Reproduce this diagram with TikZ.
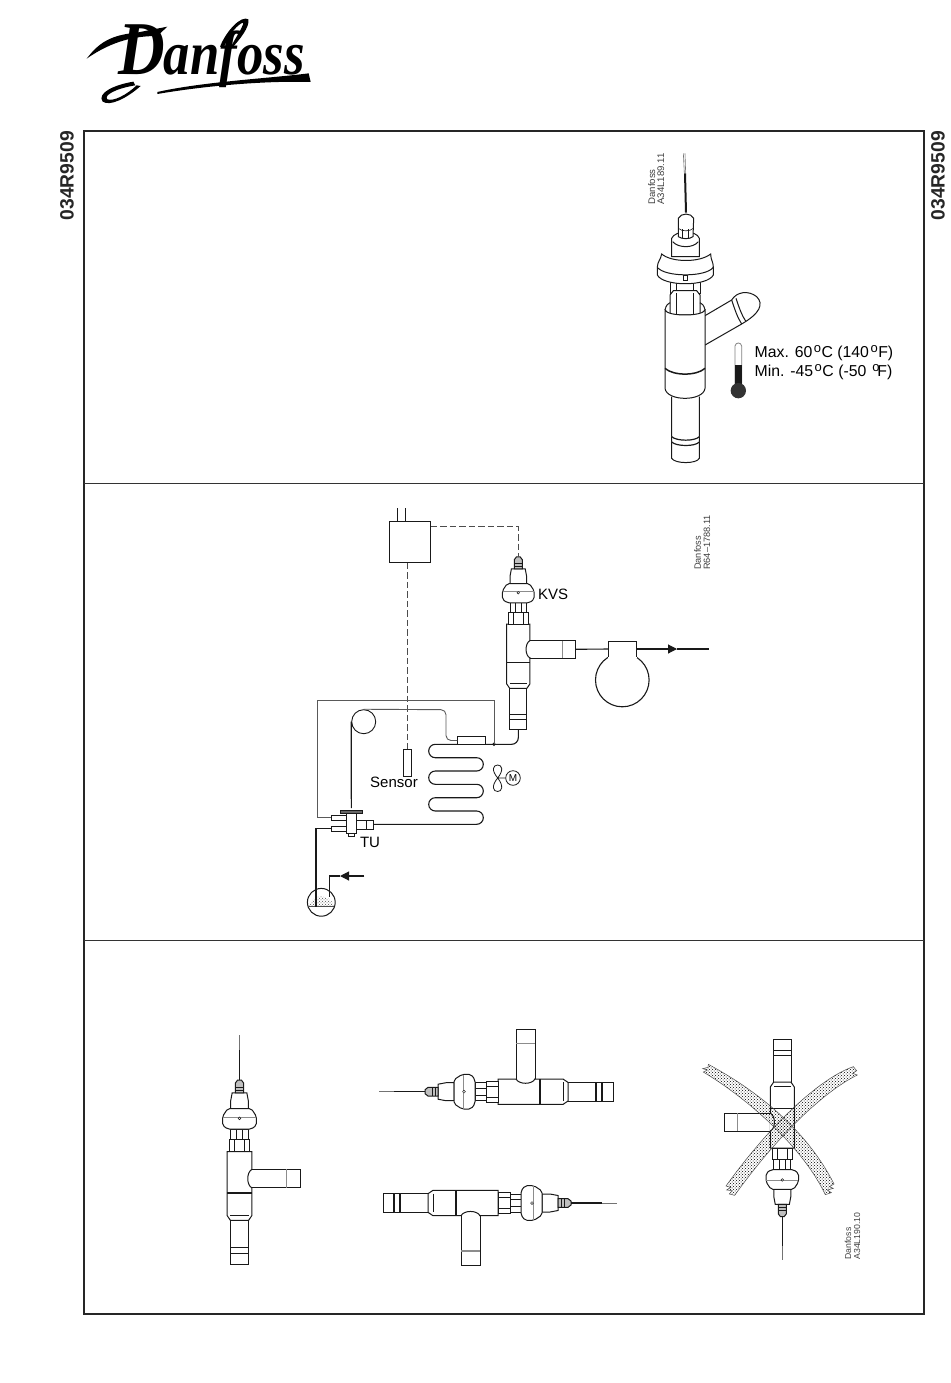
\documentclass[tikz,border=0pt]{standalone}
\usepackage{fontspec}
\setmainfont{Liberation Sans}
\newfontfamily\logofont{Liberation Serif}
\usetikzlibrary{calc,arrows.meta,patterns}
\newcommand{\degsign}{\kern1.5pt\raisebox{5pt}{\fontsize{13}{13}\selectfont o}\kern0.5pt}
\tikzset{
    frame style/.style={draw=black!85,line width=1.5pt},
    panel style/.style={draw=black!80,line width=0.8pt},
    valve line/.style={draw=black!90,line width=1pt,fill=white},
    pipe line/.style={draw=black!90,line width=1.1pt},
    thin pipe/.style={draw=black!65,line width=0.9pt},
    dash line/.style={draw=black!70,line width=0.8pt,dash pattern=on 6.5pt off 3pt},
    label style/.style={font=\fontsize{15}{15}\selectfont,inner sep=0pt},
    code style/.style={rotate=90,inner sep=0pt,align=left,text=black!75},
    side style/.style={rotate=90,inner sep=0pt,text=black!85,font=\fontsize{19.3}{19.3}\selectfont\bfseries},
    band style/.style={draw=black!70,line width=0.5pt,pattern=crosshatch dots,pattern color=black},
    % the valve, top of the body at the origin
    kvs/.pic={
        \draw[valve line] (-9.3,68) -- (-9.3,115) -- (9.3,115) -- (9.3,68);
        \draw[valve line,line width=1.2pt] (-9.3,98) -- (9.3,98) (-9.3,104) -- (9.3,104);
        \draw[valve line] (12.7,18) -- (62,18) -- (62,37) -- (12.7,37);
        \draw[black!45,line width=1.2pt] (48,18) -- (48,37);
        \draw[valve line] (-12.7,0) -- (-12.7,65) -- (-9.3,70) -- (9.3,70) -- (12.7,65) -- (12.7,0) -- cycle;
        \draw[valve line,line width=1.5pt] (-12.7,42) -- (12.7,42);
        \draw[valve line] (-9.3,65) -- (9.3,65);
        \draw[white,line width=1.6pt] (12.7,18.8) -- (12.7,36.2);
        \draw[valve line,fill=none] (12.7,18) .. controls (7,21) and (7,34) .. (12.7,37);
        \draw[valve line] (-9,-23) rectangle (9,-12);
        \draw[valve line] (-3.5,-23) -- (-3.5,-12) (3.5,-23) -- (3.5,-12);
        \draw[valve line] (-10.7,-12) rectangle (10.7,0);
        \draw[valve line] (-5.5,-12) -- (-5.5,0) (5.5,-12) -- (5.5,0);
        \draw[valve line] (-7.5,-60) -- (7.5,-60) -- (9,-52) -- (9,-44) -- (-9,-44) -- (-9,-52) -- cycle;
        \draw[valve line,rounded corners=2pt] (-12,-44) -- (12,-44) -- (17.3,-36) -- (17.3,-27) -- (12,-23) -- (-12,-23) -- (-17.3,-27) -- (-17.3,-36) -- cycle;
        \draw[black!45,line width=1pt] (-17,-35) -- (17,-35);
        \draw[valve line,line width=0.5pt] (0,-34) circle (1.4);
        \draw[valve line,fill=black!25] (-4.3,-60) -- (-4.3,-70) -- (-2,-73) -- (2,-73) -- (4.3,-70) -- (4.3,-60) -- cycle;
        \draw[black!90,line width=0.5pt] (-4.3,-66) -- (4.3,-66) (-4.3,-63) -- (4.3,-63);
        \coordinate (-head) at (0,-73);
        \coordinate (-tail) at (0,115);
        \coordinate (-port) at (62,27.5);
    },
    capillary/.pic={
        \draw[black!90,line width=1.2pt] (0,-73) -- (0,-104);
        \draw[black!55,line width=0.8pt] (0,-104) -- (0,-119);
    },
}
\begin{document}
\begin{tikzpicture}[x=1pt,y=-1pt]
    \useasboundingbox (0,0) rectangle (950,1383);

    % logo
    \node[anchor=base west,inner sep=0pt,xscale=0.85,font=\logofont\bfseries\itshape] (logo) at (118,75)
        {\fontsize{76}{76}\selectfont D\kern-1pt\fontsize{62}{62}\selectfont anfoss};
    \begin{scope}[shift={(70,10)},x=1/3pt,y=-1/3pt]
        \fill (50,146) .. controls (85,100) and (120,75) .. (200,68) -- (292,50) -- (262,78)
            .. controls (200,78) and (130,90) .. (50,146) -- cycle;
        \fill (262,246) .. controls (400,215) and (600,205) .. (716,190) -- (722,216)
            .. controls (600,212) and (420,225) .. (262,252) -- cycle;
        \fill (190,215) .. controls (130,225) and (80,250) .. (98,275)
            .. controls (120,290) and (170,265) .. (212,228) -- (200,226)
            .. controls (170,255) and (130,275) .. (112,268)
            .. controls (100,255) and (140,235) .. (196,226) -- cycle;
        \fill (450,110) .. controls (470,60) and (515,15) .. (535,28)
            .. controls (540,50) and (510,90) .. (475,125)
            .. controls (495,85) and (520,50) .. (520,38)
            .. controls (505,40) and (475,75) .. (462,112) -- cycle;
    \end{scope}

    % frame
    \path[frame style] (84,131) rectangle (924,1314);
    \path[panel style] (84,483) -- (924,483) (84,940) -- (924,940);
    \node[side style,anchor=east] (codeL) at (67,131) {034R9509};
    \node[side style,anchor=east] (codeR) at (938,131) {034R9509};

    % top panel, in zoomed pixels
    \begin{scope}[shift={(620,140)},x=1/3pt,y=-1/3pt]
        \draw[black!55,line width=0.6pt] (190,40) -- (193,100) (195,40) -- (197,100);
        \draw[black!90,line width=2pt] (195,100) -- (198,218);
        \draw[valve line] (155,770) -- (155,955) .. controls (165,972) and (230,972) .. (238,955) -- (238,770);
        \draw[valve line,line width=1.2pt] (155,890) .. controls (170,904) and (225,904) .. (238,890)
            (155,906) .. controls (170,920) and (225,920) .. (238,906);
        \draw[valve line] (250,530) -- (335,480) .. controls (350,455) and (385,450) .. (410,470)
            .. controls (432,492) and (420,520) .. (365,552) -- (250,618) -- cycle;
        \draw[valve line] (335,480) .. controls (345,510) and (352,532) .. (365,552);
        \draw[valve line] (348,475) .. controls (358,505) and (365,525) .. (378,545);
        \draw[valve line] (150,420) rectangle (240,460);
        \draw[valve line] (170,425) -- (170,455) (220,425) -- (220,455);
        \draw[valve line] (150,465) -- (160,452) -- (230,452) -- (240,465) -- (240,525) -- (150,525) -- cycle;
        \draw[valve line] (170,460) -- (170,525) (220,460) -- (220,525);
        \draw[valve line] (135,510) -- (135,745) .. controls (140,785) and (250,785) .. (255,745) -- (255,510)
            .. controls (248,530) and (142,530) .. (135,510) -- cycle;
        \draw[valve line,fill=none] (135,510) .. controls (138,495) and (145,490) .. (150,488)
            (255,510) .. controls (252,495) and (245,490) .. (240,488);
        \draw[valve line,line width=1.5pt,fill=none] (135,685) .. controls (160,708) and (230,708) .. (255,685);
        \draw[valve line] (155,295) -- (155,350) -- (238,350) -- (238,295)
            .. controls (230,270) and (165,270) .. (155,295) -- cycle;
        \draw[valve line,fill=none] (158,305) .. controls (175,325) and (220,325) .. (235,305);
        \draw[valve line] (125,342) .. controls (122,360) and (112,365) .. (112,382) -- (112,405)
            .. controls (130,440) and (262,440) .. (280,405) -- (280,382)
            .. controls (280,365) and (272,360) .. (272,342)
            .. controls (240,368) and (155,368) .. (125,342) -- cycle;
        \draw[valve line,fill=none] (112,382) .. controls (135,412) and (258,412) .. (280,382);
        \draw[valve line,line width=0.6pt] (190,405) rectangle (201,420);
        \draw[valve line] (175,235) -- (175,290) .. controls (185,298) and (210,298) .. (219,290) -- (221,235)
            .. controls (214,218) and (182,218) .. (175,235) -- cycle;
        \draw[valve line,line width=0.6pt,fill=none] (175,265) .. controls (185,275) and (210,275) .. (220,265);
        \draw[valve line,line width=0.6pt] (188,268) -- (188,295) (206,268) -- (206,295);
        % thermometer
        \draw[draw=black!50,line width=0.8pt,fill=white] (345,740) -- (345,618) .. controls (347,606) and (363,606) .. (365,618) -- (365,740);
        \fill[black!90] (345,675) rectangle (365,740);
        \fill[black!80] (355,752) circle (23);
    \end{scope}
    \node[code style,font=\fontsize{9.6}{9.2}\selectfont] (codeTop) at (656.2,179) {Danfoss\\A34L189.11};
    \node[anchor=base west,inner sep=0pt,align=left,font=\fontsize{15.8}{19}\selectfont] (limits) at (754.5,376.5)
        {Max. 60\degsign C (140\degsign F)\\Min. -45\degsign C (-50 \degsign\kern-2.5pt F)};

    % middle panel
    \node[draw=black!90,line width=1pt,minimum width=41pt,minimum height=40.6pt,inner sep=0pt] (ctrl) at (409.8,542) {};
    \coordinate (wireA) at (397.3,508);
    \coordinate (wireB) at (405.8,508);
    \draw[pipe line] (wireA) -- (wireA |- ctrl.north) (wireB) -- (wireB |- ctrl.north);
    \pic[scale=0.92] (kvs) at (518.3,624) {kvs};
    \node[label style] (kvslabel) at (553,594.3) {KVS};
    \coordinate (dashturn) at (518.3,526.7);
    \draw[dash line] (ctrl.east |- dashturn) -- (dashturn) -- (kvs-head);
    \node[draw=black!90,line width=0.9pt,minimum width=7.7pt,minimum height=27.4pt,inner sep=0pt] (sensor) at (407.2,763) {};
    \node[label style] (sensorlabel) at (394,782.7) {Sensor};
    \draw[dash line] (sensor.north |- ctrl.south) -- (sensor.north);
    \node[code style,font=\fontsize{9.2}{9.2}\selectfont] (codeMid) at (702.2,542.5) {Danfoss\\R64--1788.11};

    % compressor
    \node[draw=black!90,line width=1.1pt,circle,minimum size=53.6pt,inner sep=0pt] (comp) at (622.3,680) {};
    \coordinate (headL) at (608.3,649);
    \coordinate (headR) at (636.7,649);
    \coordinate (outtip) at (677,649);
    \coordinate (outend) at (709,649);
    \fill[white] (608.3,641.7) rectangle (636.7,658);
    \draw[pipe line] (608.3,657) -- (608.3,641.7) -- (636.7,641.7) -- (636.7,657);
    \draw[pipe line] (kvs-port) -- (headL);
    \draw[pipe line,-{Triangle[length=9pt,width=9pt]}] (headR) -- (outtip);
    \draw[pipe line] (outtip) -- (outend);

    % evaporator
    \coordinate (tee) at (494,744.3);
    \fill[black!90] (tee) circle (1.9);
    \coordinate (tuport) at (373.3,824.3);
    \draw[pipe line,rounded corners=6.6pt] (kvs-tail) -- (518.3,744.3) -- (428.7,744.3) -- (428.7,757.7)
        -- (483.3,757.7) -- (483.3,771) -- (428.7,771) -- (428.7,784.3)
        -- (483.3,784.3) -- (483.3,797.7) -- (428.7,797.7) -- (428.7,811)
        -- (483.3,811) -- (483.3,824.3) -- (tuport);
    \node[draw=black!90,line width=0.9pt,fill=white,minimum width=27.3pt,minimum height=7.6pt,inner sep=0pt] (bulb) at (471.4,740.5) {};
    \node[draw=black!90,line width=0.9pt,circle,minimum size=24pt,inner sep=0pt] (coil) at (363.7,721.7) {};
    \draw[thin pipe,rounded corners=5pt] (bulb.west) -- (446,740.5) -- (446,709.7) -- (coil.north);
    \draw[pipe line] (coil.west) -- (351.3,808);
    \coordinate (eqport) at (331.7,817.7);
    \draw[thin pipe] (tee) -- (494,700) -- (317.7,700) -- (317.7,817.7) -- (eqport);

    % fan and motor
    \node[draw=black!90,line width=0.8pt,circle,minimum size=14.6pt,inner sep=0pt,font=\fontsize{10}{10}\selectfont] (motor) at (513,778) {M};
    \draw[black!90,line width=0.8pt] (497.7,778) .. controls (491,770) and (493,765) .. (497.7,765)
        .. controls (502,765) and (504,770) .. (497.7,778)
        .. controls (491,786) and (493,791.5) .. (497.7,791.5)
        .. controls (502,791.5) and (504,786) .. (497.7,778) -- (motor.west);

    % expansion valve
    \draw[valve line] (331.7,815.5) rectangle (346,820);
    \draw[valve line] (331.7,826.5) rectangle (346,831);
    \draw[valve line] (356.7,820.3) rectangle (373.3,829.3);
    \draw[valve line] (366,820.3) -- (366,829.3);
    \draw[valve line] (346,813.3) -- (356.7,813.3) -- (356.7,833) -- (346,833) -- cycle;
    \draw[valve line] (348.5,833) rectangle (354.7,836.7);
    \draw[valve line,fill=black!60] (340,810) rectangle (362.7,813.3);
    \node[label style] (tulabel) at (370,842) {TU};

    % receiver
    \node[draw=black!90,line width=1pt,circle,minimum size=27.8pt,inner sep=0pt] (recv) at (321.3,902.3) {};
    \fill[pattern=crosshatch dots,pattern color=black!70] (308.6,906) -- (334,906) arc[start angle=-16,end angle=-164,radius=13.2] -- cycle;
    \draw[black!70,line width=0.5pt] (308.4,905.8) -- (334.2,905.8);
    \coordinate (liqport) at (331.7,828.7);
    \draw[pipe line] (liqport) -- (316,828.7) -- (316,906.7);
    \coordinate (instart) at (364.3,876);
    \coordinate (intip) at (340,876);
    \draw[pipe line] (instart) -- (349,876);
    \draw[pipe line,-{Triangle[length=9pt,width=9pt]}] (349,876) -- (intip);
    \draw[pipe line] (intip) -- (329.3,876) -- (329.3,897.3);

    % bottom panel
    \pic[scale=0.98] (vA) at (239.5,1151.7) {kvs};
    \pic[scale=0.98] at (239.5,1151.7) {capillary};
    \pic[rotate=90] (vB) at (498,1091.7) {kvs};
    \pic[rotate=90] at (498,1091.7) {capillary};
    \pic[rotate=-90] (vC) at (498,1203) {kvs};
    \pic[rotate=-90] at (498,1203) {capillary};
    \pic[rotate=180,scale=0.94] (vD) at (782.3,1148) {kvs};
    \pic[rotate=180,scale=0.94] at (782.3,1148) {capillary};

    % crossed out position, in zoomed pixels
    \begin{scope}[shift={(690,1020)},x=1/3pt,y=-1/3pt]
        \draw[band style] (55,133) .. controls (170,195) and (340,310) .. (432,492)
            -- (418,500) -- (430,505) -- (412,510) -- (424,518) -- (406,524)
            .. controls (340,385) and (180,240) .. (40,156)
            -- (52,150) -- (38,146) -- (54,142) -- cycle;
        \draw[band style] (490,140) .. controls (400,170) and (250,300) .. (108,498)
            -- (122,502) -- (110,510) -- (126,512) -- (118,522) -- (134,526)
            .. controls (260,350) and (400,215) .. (502,165)
            -- (488,160) -- (500,152) -- cycle;
    \end{scope}
    \node[code style,font=\fontsize{8.7}{9}\selectfont] (codeBot) at (852.5,1236) {Danfoss\\A34L190.10};
\end{tikzpicture}
\end{document}
